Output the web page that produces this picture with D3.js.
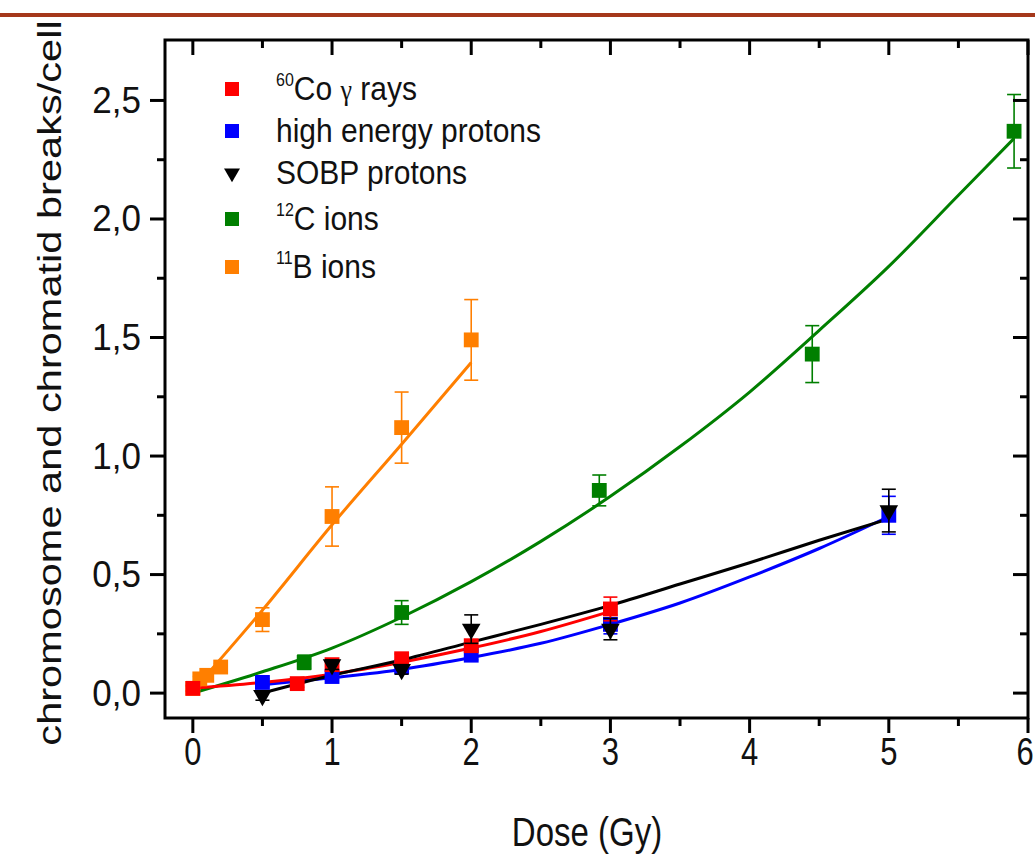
<!DOCTYPE html>
<html>
<head>
<meta charset="utf-8">
<script src="https://cdn.jsdelivr.net/npm/d3@7"></script>
<style>
  body { margin: 0; background: #fff; }
  text { font-family: "Liberation Sans", Arial, sans-serif; fill: #111; }
</style>
</head>
<body>
<div id="chart"></div>
<script>
// measured points (dose in Gy, breaks per cell, error)
var coDose = [0, 0.75, 1.0, 1.5, 2.0, 3.0];
var coVal = [0.02, 0.04, 0.12, 0.145, 0.20, 0.355];
var coErr = [0.012, 0.015, 0.02, 0.02, 0.025, 0.05];

var hepDose = [0.5, 1.0, 1.5, 2.0, 3.0, 5.0];
var hepVal = [0.045, 0.07, 0.11, 0.16, 0.29, 0.75];
var hepErr = [0.015, 0.015, 0.02, 0.02, 0.04, 0.08];

var sobpDose = [0.5, 1.0, 1.5, 2.0, 3.0, 5.0];
var sobpVal = [-0.01, 0.12, 0.10, 0.27, 0.27, 0.77];
var sobpErr = [0.02, 0.02, 0.02, 0.06, 0.045, 0.09];

var cDose = [0.8, 1.5, 2.92, 4.45, 5.9];
var cVal = [0.13, 0.34, 0.855, 1.43, 2.37];
var cErr = [0.03, 0.05, 0.065, 0.12, 0.155];

var bDose = [0, 0.05, 0.1, 0.2, 0.5, 1.0, 1.5, 2.0];
var bVal = [0.02, 0.06, 0.075, 0.11, 0.31, 0.745, 1.12, 1.49];
var bErr = [0.01, 0.01, 0.01, 0.015, 0.05, 0.125, 0.15, 0.17];

// fitted curves
var coFitX = [0, 0.5, 1, 1.5, 2, 2.5, 3];
var coFitY = [0.02, 0.045, 0.08, 0.13, 0.19, 0.26, 0.345];
var hepFitX = [0.5, 1, 1.5, 2, 2.5, 3, 3.5, 4, 4.5, 5];
var hepFitY = [0.035, 0.065, 0.10, 0.15, 0.21, 0.29, 0.38, 0.49, 0.61, 0.745];
var sobpFitX = [0.5, 1, 1.5, 2, 2.5, 3, 3.5, 4, 4.5, 5];
var sobpFitY = [0.0, 0.075, 0.14, 0.215, 0.29, 0.37, 0.46, 0.55, 0.645, 0.735];
var cFitX = [0, 0.5, 1, 1.5, 2, 2.5, 3, 3.5, 4, 4.5, 5, 5.5, 5.9];
var cFitY = [0.0, 0.09, 0.19, 0.32, 0.47, 0.64, 0.83, 1.04, 1.27, 1.53, 1.80, 2.10, 2.34];
var bFitX = [0, 0.5, 1, 1.5, 2];
var bFitY = [0.01, 0.35, 0.71, 1.05, 1.395];

var xTicks = [0, 1, 2, 3, 4, 5, 6];
var yTicks = [0, 0.5, 1.0, 1.5, 2.0, 2.5];

var series = [
  { name: "11B", sym: "square", color: "#ff7f00", x: bDose, y: bVal, e: bErr, fx: bFitX, fy: bFitY },
  { name: "12C", sym: "square", color: "#007f00", x: cDose, y: cVal, e: cErr, fx: cFitX, fy: cFitY },
  { name: "hep", sym: "square", color: "#0000ff", x: hepDose, y: hepVal, e: hepErr, fx: hepFitX, fy: hepFitY },
  { name: "co", sym: "square", color: "#ff0000", x: coDose, y: coVal, e: coErr, fx: coFitX, fy: coFitY },
  { name: "sobp", sym: "tri", color: "#000000", x: sobpDose, y: sobpVal, e: sobpErr, fx: sobpFitX, fy: sobpFitY }
];

var W = 1035, H = 862;
var pLeft = 165, pRight = 1028, pTop = 40, pBottom = 718;
var sy = 1.24; // the figure is stretched vertically

var svg = d3.select("#chart").append("svg").attr("width", W).attr("height", H);
svg.append("rect").attr("width", W).attr("height", H).attr("fill", "#fff");
svg.append("rect").attr("x", 0).attr("y", 13).attr("width", W).attr("height", 4).attr("fill", "#a5381b");

var x = d3.scaleLinear().domain([-0.2, 6]).range([pLeft, pRight]);
var y = d3.scaleLinear().domain([-0.105, 2.755]).range([pBottom, pTop]);

var g = svg.append("g");

// fit lines
var line = d3.line().x(d => x(d[0])).y(d => y(d[1])).curve(d3.curveMonotoneX);
series.forEach(function(s) {
  g.append("path").datum(d3.zip(s.fx, s.fy)).attr("d", line)
    .attr("fill", "none").attr("stroke", s.color).attr("stroke-width", 3);
});

// error bars + markers
series.forEach(function(s) {
  var pts = d3.zip(s.x, s.y, s.e);
  var eg = g.append("g").attr("stroke", s.color).attr("stroke-width", 1.6);
  pts.forEach(function(p) {
    var cx = x(p[0]);
    eg.append("line").attr("x1", cx).attr("x2", cx).attr("y1", y(p[1] - p[2])).attr("y2", y(p[1] + p[2]));
    [p[1] - p[2], p[1] + p[2]].forEach(function(v) {
      eg.append("line").attr("x1", cx - 7).attr("x2", cx + 7).attr("y1", y(v)).attr("y2", y(v));
    });
  });
  var symbol = s.sym == "tri" ? d3.symbol().type(d3.symbolTriangle).size(150) : d3.symbol().type(d3.symbolSquare).size(220);
  g.selectAll(null).data(pts).enter().append("path")
    .attr("d", symbol)
    .attr("transform", d => "translate(" + x(d[0]) + "," + y(d[1]) + ")" + (s.sym == "tri" ? " rotate(180)" : ""))
    .attr("fill", s.color);
});

// frame
svg.append("rect").attr("x", pLeft).attr("y", pTop).attr("width", pRight - pLeft).attr("height", pBottom - pTop)
  .attr("fill", "none").attr("stroke", "#000").attr("stroke-width", 3);

var fmt = d => d3.format(".1f")(d).replace(".", ",");
var xMinor = d3.range(0.5, 6, 1);
var yMinor = d3.range(0.25, 2.75, 0.5);

var axB = svg.append("g");
function tick(x1, y1, x2, y2) {
  axB.append("line").attr("x1", x1).attr("x2", x2).attr("y1", y1).attr("y2", y2).attr("stroke", "#000").attr("stroke-width", 3);
}
xTicks.forEach(function(t) {
  tick(x(t), pBottom, x(t), pBottom + 15);
  tick(x(t), pTop, x(t), pTop + 15);
  axB.append("text").attr("transform", "translate(" + Math.min(x(t), 1025) + ",765) scale(1," + sy + ")")
    .attr("text-anchor", "middle").attr("font-size", 31).text(t);
});
xMinor.forEach(function(t) {
  tick(x(t), pBottom, x(t), pBottom + 8);
  tick(x(t), pTop, x(t), pTop + 8);
});
yTicks.forEach(function(t) {
  tick(pLeft, y(t), pLeft - 15, y(t));
  tick(pRight, y(t), pRight - 15, y(t));
  axB.append("text").attr("transform", "translate(141," + (y(t) + 12.5) + ") scale(1,1.05)")
    .attr("text-anchor", "end").attr("font-size", 35).text(fmt(t));
});
yMinor.forEach(function(t) {
  tick(pLeft, y(t), pLeft - 8, y(t));
  tick(pRight, y(t), pRight - 8, y(t));
});

svg.append("text").attr("transform", "translate(587,846) scale(1," + sy + ")")
  .attr("text-anchor", "middle").attr("font-size", 33).text("Dose (Gy)");
svg.append("text").attr("transform", "translate(61,383) rotate(-90) scale(1.26,1)")
  .attr("text-anchor", "middle").attr("font-size", 33).text("chromosome and chromatid breaks/cell");

// legend
var legend = [
  { sup: "60", label: "Co ", gamma: true, after: " rays", color: "#ff0000", sym: "square", yy: 89 },
  { sup: "", label: "high energy protons", color: "#0000ff", sym: "square", yy: 131 },
  { sup: "", label: "SOBP protons", color: "#000000", sym: "tri", yy: 173 },
  { sup: "12", label: "C ions", color: "#007f00", sym: "square", yy: 219 },
  { sup: "11", label: "B ions", color: "#ff7f00", sym: "square", yy: 267 }
];
var lg = svg.append("g");
legend.forEach(function(l) {
  if (l.sym == "tri") {
    lg.append("path").attr("d", d3.symbol().type(d3.symbolTriangle).size(110))
      .attr("transform", "translate(232," + l.yy + ") rotate(180)").attr("fill", l.color);
  } else {
    lg.append("rect").attr("x", 225).attr("y", l.yy - 7).attr("width", 14).attr("height", 14).attr("fill", l.color);
  }
  var t = lg.append("text").attr("transform", "translate(276," + (l.yy + 11) + ") scale(1,1.1)").attr("font-size", 30);
  if (l.sup) t.append("tspan").attr("font-size", 16).attr("dy", -13).text(l.sup);
  t.append("tspan").attr("dy", l.sup ? 13 : 0).text(l.label);
  if (l.gamma) {
    t.append("tspan").attr("font-family", "Liberation Serif, serif").attr("font-size", 26).text("γ");
    t.append("tspan").text(l.after);
  }
});
</script>
</body>
</html>
